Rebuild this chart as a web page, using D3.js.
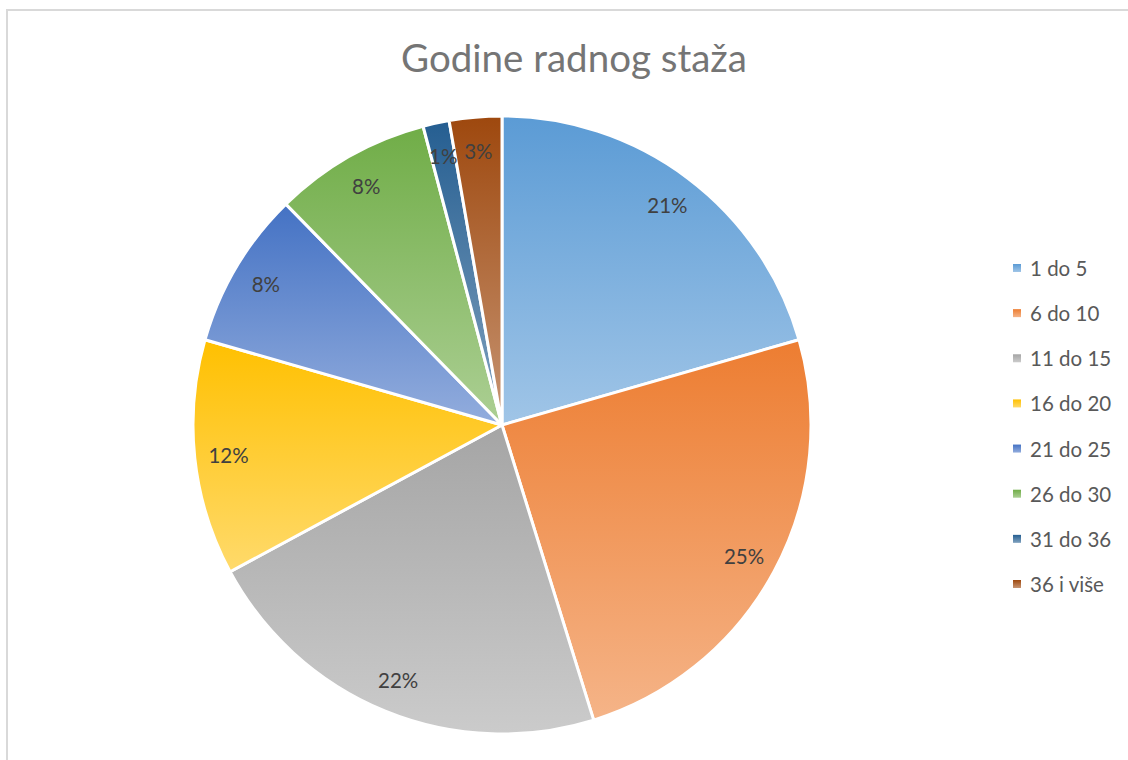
<!DOCTYPE html>
<html>
<head>
<meta charset="utf-8">
<script src="https://cdn.jsdelivr.net/npm/d3@7"></script>
<style>
  body { margin: 0; background: #fff; }
  svg { display: block; font-family: Lato, "Open Sans", sans-serif; }
</style>
</head>
<body>
<div id="chart"></div>
<script>
// data (counts)
const categories = ["1 do 5", "6 do 10", "11 do 15", "16 do 20", "21 do 25", "26 do 30", "31 do 36", "36 i više"];
const counts = [15, 18, 16, 9, 6, 6, 1, 2];
const baseColors = ["#5B9BD5", "#ED7D31", "#A5A5A5", "#FFC000", "#4472C4", "#70AD47", "#255E91", "#9E480E"];
const titleText = "Godine radnog staža";

const width = 1128, height = 760;
const cx = 502, cy = 425, radius = 309;

const svg = d3.select("#chart").append("svg")
    .attr("width", width)
    .attr("height", height);

// chart frame
svg.append("rect")
    .attr("x", 7).attr("y", 10)
    .attr("width", width + 20).attr("height", height + 20)
    .attr("fill", "#fff")
    .attr("stroke", "#d9d9d9")
    .attr("stroke-width", 2);

// gradients, darker at top, lighter at bottom
const defs = svg.append("defs");
baseColors.forEach((c, i) => {
    let g = defs.append("linearGradient")
        .attr("id", "grad" + i)
        .attr("x1", 0).attr("y1", 0)
        .attr("x2", 0).attr("y2", 1);
    g.append("stop").attr("offset", "0%").attr("stop-color", c);
    g.append("stop").attr("offset", "100%").attr("stop-color", d3.interpolateRgb(c, "#fff")(0.42));
});

// title
svg.append("text")
    .attr("x", 574)
    .attr("y", 72)
    .attr("text-anchor", "middle")
    .attr("fill", "#757575")
    .style("font-size", "38.5px")
    .text(titleText);

// pie
const total = d3.sum(counts);
const pie = d3.pie().sort(null).value(d => d);
const arc = d3.arc().innerRadius(0).outerRadius(radius);
const labelArc = d3.arc().innerRadius(radius * 0.89).outerRadius(radius * 0.89);

const g = svg.append("g").attr("transform", `translate(${cx},${cy})`);
const arcs = pie(counts);

g.selectAll("path.slice")
    .data(arcs)
    .enter()
    .append("path")
    .attr("class", "slice")
    .attr("d", arc)
    .attr("fill", (d, i) => `url(#grad${i})`)
    .attr("stroke", "#fff")
    .attr("stroke-width", 3)
    .attr("stroke-linejoin", "round");

g.selectAll("text.lbl")
    .data(arcs)
    .enter()
    .append("text")
    .attr("class", "lbl")
    .attr("transform", d => `translate(${labelArc.centroid(d)})`)
    .attr("text-anchor", "middle")
    .attr("dominant-baseline", "central")
    .attr("fill", "#404040")
    .style("font-size", "20.5px")
    .text(d => Math.round(d.data / total * 100) + "%");

// legend
const legendY = d3.scalePoint().domain(categories).range([268, 584]);
const legend = svg.append("g").attr("class", "legend");
const items = legend.selectAll("g")
    .data(categories)
    .enter()
    .append("g")
    .attr("transform", d => `translate(1013,${legendY(d)})`);

items.append("rect")
    .attr("x", 0).attr("y", -4)
    .attr("width", 8).attr("height", 8)
    .attr("fill", (d, i) => `url(#grad${i})`);

items.append("text")
    .attr("x", 17)
    .attr("y", 0)
    .attr("dominant-baseline", "central")
    .attr("fill", "#595959")
    .style("font-size", "20.5px")
    .text(d => d);
</script>
</body>
</html>
